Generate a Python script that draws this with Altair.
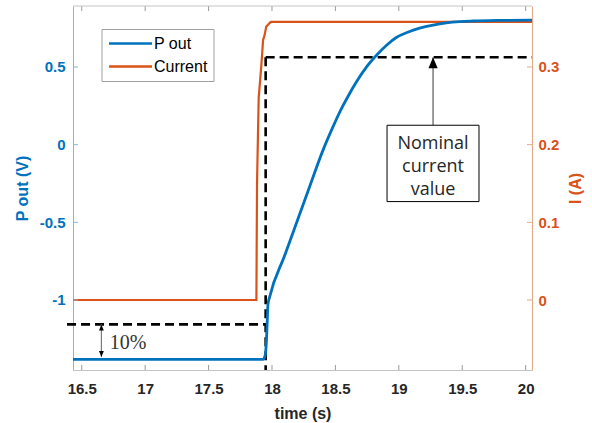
import altair as alt
import pandas as pd

# ---------------- data ----------------
x_domain = [16.431, 20.05]
x_ticks = [16.5, 17, 17.5, 18, 18.5, 19, 19.5, 20]
left_domain = [-1.4507, 0.8927]
left_ticks = [-1, -0.5, 0, 0.5]
right_domain = [-0.0901, 0.3785]
right_ticks = [0, 0.1, 0.2, 0.3]

series_names = ["P out", "Current"]

pout_t = [16.431, 17.93, 17.945, 17.955, 17.962, 17.968, 17.982, 18.10, 18.205, 18.30,
          18.40, 18.47, 18.534, 18.60, 18.665, 18.75, 18.835, 18.91, 18.98, 19.07,
          19.164, 19.27, 19.375, 19.48, 19.585, 19.8, 20.05]
pout_v = [-1.382, -1.382, -1.36, -1.28, -1.15, -1.03, -0.979, -0.714, -0.477, -0.263,
          -0.04, 0.095, 0.21, 0.312, 0.403, 0.505, 0.585, 0.645, 0.69, 0.724,
          0.750, 0.770, 0.784, 0.792, 0.796, 0.800, 0.802]

cur_t = [16.431, 17.877, 17.882, 17.895, 17.915, 17.93, 17.94, 17.955, 17.99, 20.05]
cur_v = [0.0, 0.0, 0.15, 0.26, 0.30, 0.335, 0.34, 0.352, 0.358, 0.358]

step_time = [17.95]
nominal_current = [0.3125]
ten_pct_level = [-1.157]
ten_start = [16.384]

arrow10_t = [16.655]
arrow10_top = [-1.157]
arrow10_bot = [-1.367]
label10_t = [16.721]
label10_v = [-1.3174]
label10_text = ["10%"]

box_t = [18.907, 19.632]
box_v = [0.1267, 0.2250]
arrow_t = [19.27]
note_lines = ["Nominal", "current", "value"]
note_v = [0.1945, 0.1649, 0.1354]

# ---------------- style ----------------
BLUE = "#0072BD"
ORANGE = "#D95319"
DARK = "#262626"
AX_GRAY = "#c4c4c4"
AX_BLUE = "#86b6dc"
AX_ORANGE = "#e4a888"
FONT = "Liberation Sans"
W, H = 459, 364
TICK = 5

fmt = "'' + datum.value"

x_axis = alt.Axis(values=x_ticks, ticks=False, grid=False, domainColor=AX_GRAY,
                  labelExpr=fmt, labelFont=FONT, labelFontSize=15, labelColor=DARK,
                  labelFontWeight="bold",
                  labelPadding=11, labelFlush=False, labelOverlap=False,
                  title="time (s)", titleFont=FONT, titleFontSize=16,
                  titleFontWeight="bold", titleColor=DARK, titleX=229.5, titleY=43,
                  titleAlign="center", titleBaseline="middle")
yl_axis = alt.Axis(orient="left", values=left_ticks, ticks=False, grid=False,
                   domainColor=AX_BLUE, labelExpr=fmt, labelFont=FONT, labelFontSize=15,
                   labelFontWeight="bold",
                   labelColor=BLUE, labelPadding=8, labelFlush=False,
                   title="P out (V)", titleFont=FONT, titleFontSize=16,
                   titleFontWeight="bold", titleColor=BLUE, titleAngle=270,
                   titleX=-51, titleY=182, titleAlign="center", titleBaseline="middle")
yr_axis = alt.Axis(orient="right", values=right_ticks, ticks=False, grid=False,
                   domainColor=AX_ORANGE, labelExpr=fmt, labelFont=FONT, labelFontSize=15,
                   labelFontWeight="bold",
                   labelColor=ORANGE, labelPadding=6, labelFlush=False,
                   title="I (A)", titleFont=FONT, titleFontSize=16,
                   titleFontWeight="bold", titleColor=ORANGE, titleAngle=270,
                   titleX=43, titleY=182, titleAlign="center", titleBaseline="middle")

x_scale = alt.Scale(domain=x_domain, nice=False, zero=False)
yl_scale = alt.Scale(domain=left_domain, nice=False, zero=False)
yr_scale = alt.Scale(domain=right_domain, nice=False, zero=False)


def X(f):
    return alt.X(f, type="quantitative", scale=x_scale, axis=x_axis)


def YL(f):
    return alt.Y(f, type="quantitative", scale=yl_scale, axis=yl_axis)


def YR(f):
    return alt.Y(f, type="quantitative", scale=yr_scale, axis=yr_axis)


legend = alt.Legend(orient="none", legendX=28.5, legendY=23, direction="vertical",
                    symbolType="M-1,0H5.15", symbolSize=196, symbolStrokeWidth=2.5,
                    labelFont=FONT, labelFontSize=16, labelColor="black",
                    labelOffset=29.5, padding=6, rowPadding=6,
                    strokeColor="#a0a0a0", fillColor="white", labelLimit=0)
color = alt.Color("series:N", title=None,
                  scale=alt.Scale(domain=series_names, range=[BLUE, ORANGE]),
                  legend=legend)

pout_df = pd.DataFrame({"t": pout_t, "v": pout_v, "series": series_names[0]})
cur_df = pd.DataFrame({"t": cur_t, "v": cur_v, "series": series_names[1]})

# ---------------- right-axis group ----------------
cur_line = alt.Chart(cur_df).mark_line(strokeWidth=2.2).encode(
    x=X("t"), y=YR("v"), color=color)

rt_df = pd.DataFrame({"tick": right_ticks})
right_tick_marks = alt.Chart(rt_df).mark_rule(color=AX_ORANGE, strokeWidth=1).encode(
    x=alt.value(W), x2=alt.value(W - TICK), y=YR("tick"))

dash_df = pd.DataFrame({"t": step_time, "v": nominal_current})
vdash = alt.Chart(dash_df).mark_rule(color="black", strokeWidth=2.6,
                                     strokeDash=[9, 5]).encode(
    x=X("t"), y=YR("v"), y2=alt.value(H))
hdash = alt.Chart(dash_df).mark_rule(color="black", strokeWidth=2.6,
                                     strokeDash=[9, 5]).encode(
    x=X("t"), x2=alt.value(W), y=YR("v"))

arr_df = pd.DataFrame({"t": arrow_t, "v0": [box_v[1]], "v1": nominal_current})
arrow_line = alt.Chart(arr_df).mark_rule(color="#7a7a7a", strokeWidth=1.5).encode(
    x=X("t"), y=YR("v0"), y2=alt.Y2("v1"))
arrow_head = alt.Chart(arr_df).mark_point(
    shape="M0,0L-0.5,1.2L0.5,1.2Z", filled=True, size=336, color="black",
    opacity=1).encode(x=X("t"), y=YR("v1"))

box_df = pd.DataFrame({"t0": [box_t[0]], "t1": [box_t[1]],
                       "v0": [box_v[0]], "v1": [box_v[1]]})
box = alt.Chart(box_df).mark_rect(fill="white", stroke="black", strokeWidth=1).encode(
    x=X("t0"), x2=alt.X2("t1"), y=YR("v0"), y2=alt.Y2("v1"))

note_df = pd.DataFrame({"t": arrow_t * len(note_lines), "v": note_v, "txt": note_lines})
note = alt.Chart(note_df).mark_text(font="Open Sans", fontSize=18, color=DARK,
                                    align="center", baseline="alphabetic").encode(
    x=X("t"), y=YR("v"), text="txt:N")

right_group = alt.layer(cur_line, right_tick_marks, vdash, hdash, arrow_line,
                        arrow_head, box, note)

# ---------------- left-axis group ----------------
pout_line = alt.Chart(pout_df).mark_line(strokeWidth=2.8, interpolate="monotone").encode(
    x=X("t"), y=YL("v"), color=color)

lt_df = pd.DataFrame({"tick": left_ticks})
left_tick_marks = alt.Chart(lt_df).mark_rule(color=AX_BLUE, strokeWidth=1).encode(
    x=alt.value(0), x2=alt.value(TICK), y=YL("tick"))

xt_df = pd.DataFrame({"tick": x_ticks})
bottom_ticks = alt.Chart(xt_df).mark_rule(color="#9a9a9a", strokeWidth=1).encode(
    x=X("tick"), y=alt.value(H), y2=alt.value(H - TICK))
top_ticks = alt.Chart(xt_df).mark_rule(color="#9a9a9a", strokeWidth=1).encode(
    x=X("tick"), y=alt.value(0), y2=alt.value(TICK))
top_border = alt.Chart(xt_df.head(1)).mark_rule(color=AX_GRAY, strokeWidth=1).encode(
    x=alt.value(0), x2=alt.value(W), y=alt.value(0))

low_df = pd.DataFrame({"t0": ten_start, "t1": step_time, "v": ten_pct_level})
low_dash = alt.Chart(low_df).mark_rule(color="black", strokeWidth=2.6,
                                       strokeDash=[9, 5]).encode(
    x=X("t0"), x2=alt.X2("t1"), y=YL("v"))

a10_df = pd.DataFrame({"t": arrow10_t, "v0": arrow10_top, "v1": arrow10_bot})
a10_line = alt.Chart(a10_df).mark_rule(color="#7a7a7a", strokeWidth=1.2).encode(
    x=X("t"), y=YL("v0"), y2=alt.Y2("v1"))
a10_up = alt.Chart(a10_df).mark_point(
    shape="M0,0L-0.6,1.5L0.6,1.5Z", filled=True, size=64, color="black",
    opacity=1).encode(x=X("t"), y=YL("v0"))
a10_down = alt.Chart(a10_df).mark_point(
    shape="M0,0L-0.6,-1.5L0.6,-1.5Z", filled=True, size=64, color="black",
    opacity=1).encode(x=X("t"), y=YL("v1"))

l10_df = pd.DataFrame({"t": label10_t, "v": label10_v, "txt": label10_text})
l10 = alt.Chart(l10_df).mark_text(font="Liberation Serif", fontSize=20, color="#333333",
                                  align="left", baseline="alphabetic").encode(
    x=X("t"), y=YL("v"), text="txt:N")

left_group = alt.layer(pout_line, left_tick_marks, bottom_ticks, top_ticks, top_border,
                       low_dash, a10_line, a10_up, a10_down, l10)

chart = alt.layer(right_group, left_group).resolve_scale(y="independent").properties(
    width=W, height=H,
    padding={"left": 73, "top": 6, "right": 60, "bottom": 53},
    autosize=alt.AutoSizeParams(type="none"),
    background="white",
).configure_view(strokeWidth=0)

chart.save("out.html", embed_options={"renderer": "svg", "actions": False})
